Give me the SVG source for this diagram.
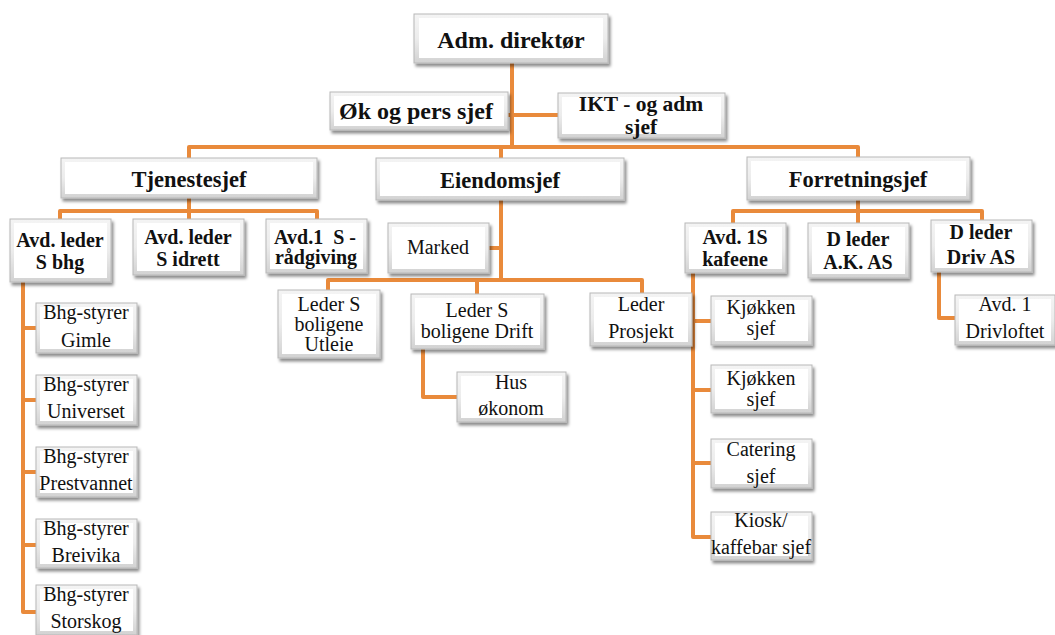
<svg xmlns="http://www.w3.org/2000/svg" width="1055" height="635" viewBox="0 0 1055 635">
<defs>
<filter id="sh" x="-10%" y="-10%" width="130%" height="140%">
<feDropShadow dx="2" dy="3" stdDeviation="1.8" flood-color="#000" flood-opacity="0.45"/>
</filter>
<linearGradient id="bev" x1="0" y1="0" x2="0" y2="1">
<stop offset="0" stop-color="#f4f4f4"/>
<stop offset="0.5" stop-color="#ececec"/>
<stop offset="1" stop-color="#d2d2d2"/>
</linearGradient>
</defs>
<style>
.b{fill:url(#bev);stroke:#b8b8b8;stroke-width:1;filter:url(#sh)}
.i{fill:#ffffff}
.c{fill:none;stroke:#E98A3B;stroke-width:4;stroke-linejoin:round}
text{font-family:"Liberation Serif","Times New Roman",serif;fill:#111;text-anchor:middle}
.bd{font-weight:bold}
.s{font-size:20px}
.n{font-size:20px}
.h{font-size:22.5px}
</style>
<rect width="1055" height="635" fill="#ffffff"/>
<g id="connectors">
<path class="c" d="M512 63V147"/>
<path class="c" d="M508 115H558"/>
<path class="c" d="M189 158V147H858V157"/>
<path class="c" d="M501 147V158"/>
<path class="c" d="M189 198V219"/>
<path class="c" d="M60 219V211H317V219"/>
<path class="c" d="M23 282V612H36"/>
<path class="c" d="M23 328H36M23 400H36M23 472H36M23 545H36"/>
<path class="c" d="M501 200V280"/>
<path class="c" d="M489 248H501"/>
<path class="c" d="M328 290V280H642V293"/>
<path class="c" d="M477 280V294"/>
<path class="c" d="M423 349V397H457"/>
<path class="c" d="M858 200V223"/>
<path class="c" d="M733 223V211H982V220"/>
<path class="c" d="M693 273V537H711"/>
<path class="c" d="M693 321H711M693 390H711M693 463H711"/>
<path class="c" d="M939 272V318H955"/>
</g>
<g id="adm"><rect class="b" x="414" y="14" width="194" height="49"/><rect class="i" x="419" y="18" width="184" height="40"/><text class="bd" x="511" y="48" font-size="24">Adm. direktør</text></g>
<g id="ok"><rect class="b" x="330" y="92" width="178" height="38"/><rect class="i" x="334" y="96" width="170" height="30"/><text class="bd" x="416" y="119" font-size="24">Øk og pers sjef</text></g>
<g id="ikt"><rect class="b" x="558" y="93" width="167" height="45"/><rect class="i" x="562" y="97" width="159" height="37"/><text class="bd" x="641" y="111" font-size="21.5">IKT - og adm</text><text class="bd" x="641" y="134" font-size="21.5">sjef</text></g>
<g id="tjenestesjef"><rect class="b" x="61" y="158" width="256" height="40"/><rect class="i" x="65" y="162" width="248" height="32"/><text class="bd h" x="189" y="187">Tjenestesjef</text></g>
<g id="eiendomsjef"><rect class="b" x="376" y="158" width="248" height="42"/><rect class="i" x="380" y="162" width="240" height="34"/><text class="bd h" x="500" y="188">Eiendomsjef</text></g>
<g id="forretningsjef"><rect class="b" x="747" y="157" width="223" height="43"/><rect class="i" x="751" y="161" width="215" height="35"/><text class="bd h" x="858" y="187">Forretningsjef</text></g>
<g id="bhg"><rect class="b" x="10" y="219" width="101" height="63"/><rect class="i" x="14" y="223" width="93" height="55"/><text class="bd s" x="60" y="247">Avd. leder</text><text class="bd s" x="60" y="269">S bhg</text></g>
<g id="idrett"><rect class="b" x="133" y="219" width="111" height="56"/><rect class="i" x="137" y="223" width="103" height="48"/><text class="bd s" x="188" y="244">Avd. leder</text><text class="bd s" x="188" y="266">S idrett</text></g>
<g id="radgiving"><rect class="b" x="266" y="219" width="101" height="54"/><rect class="i" x="270" y="223" width="93" height="46"/><text class="bd s" x="315" y="244" xml:space="preserve">Avd.1  S -</text><text class="bd s" x="316" y="264">rådgiving</text></g>
<g id="marked"><rect class="b" x="388" y="223" width="101" height="50"/><rect class="i" x="392" y="227" width="93" height="42"/><text class="n" x="438" y="254">Marked</text></g>
<g id="utleie"><rect class="b" x="278" y="290" width="102" height="68"/><rect class="i" x="282" y="294" width="94" height="60"/><text class="n" x="329" y="311">Leder S</text><text class="n" x="329" y="331">boligene</text><text class="n" x="329" y="351">Utleie</text></g>
<g id="drift"><rect class="b" x="411" y="294" width="133" height="55"/><rect class="i" x="415" y="298" width="125" height="47"/><text class="n" x="477" y="317">Leder S</text><text class="n" x="477" y="338">boligene Drift</text></g>
<g id="prosjekt"><rect class="b" x="590" y="293" width="102" height="53"/><rect class="i" x="594" y="297" width="94" height="45"/><text class="n" x="641" y="311">Leder</text><text class="n" x="641" y="338">Prosjekt</text></g>
<g id="hus"><rect class="b" x="457" y="372" width="109" height="50"/><rect class="i" x="461" y="376" width="101" height="42"/><text class="n" x="511" y="389">Hus</text><text class="n" x="511" y="415">økonom</text></g>
<g id="kafeene"><rect class="b" x="685" y="223" width="101" height="50"/><rect class="i" x="689" y="227" width="93" height="42"/><text class="bd s" x="735" y="244">Avd. 1S</text><text class="bd s" x="735" y="266">kafeene</text></g>
<g id="akas"><rect class="b" x="808" y="223" width="101" height="55"/><rect class="i" x="812" y="227" width="93" height="47"/><text class="bd s" x="858" y="246">D leder</text><text class="bd s" x="858" y="269">A.K. AS</text></g>
<g id="drivas"><rect class="b" x="931" y="220" width="101" height="52"/><rect class="i" x="935" y="224" width="93" height="44"/><text class="bd s" x="981" y="239">D leder</text><text class="bd s" x="981" y="264">Driv AS</text></g>
<g id="drivloftet"><rect class="b" x="955" y="295" width="100" height="50"/><rect class="i" x="959" y="299" width="92" height="42"/><text class="n" x="1005" y="311">Avd. 1</text><text class="n" x="1005" y="338">Drivloftet</text></g>
<g id="kjokken1"><rect class="b" x="711" y="296" width="101" height="49"/><rect class="i" x="715" y="300" width="93" height="41"/><text class="n" x="761" y="314">Kjøkken</text><text class="n" x="761" y="335">sjef</text></g>
<g id="kjokken2"><rect class="b" x="711" y="365" width="101" height="48"/><rect class="i" x="715" y="369" width="93" height="40"/><text class="n" x="761" y="385">Kjøkken</text><text class="n" x="761" y="406">sjef</text></g>
<g id="catering"><rect class="b" x="711" y="439" width="101" height="49"/><rect class="i" x="715" y="443" width="93" height="41"/><text class="n" x="761" y="456">Catering</text><text class="n" x="761" y="483">sjef</text></g>
<g id="kiosk"><rect class="b" x="711" y="512" width="101" height="48"/><rect class="i" x="715" y="516" width="93" height="40"/><text class="n" x="761" y="527">Kiosk/</text><text class="n" x="761" y="554">kaffebar sjef</text></g>
<g id="gimle"><rect class="b" x="36" y="303" width="101" height="50"/><rect class="i" x="40" y="307" width="93" height="42"/><text class="n" x="86" y="319">Bhg-styrer</text><text class="n" x="86" y="347">Gimle</text></g>
<g id="universet"><rect class="b" x="36" y="375" width="101" height="50"/><rect class="i" x="40" y="379" width="93" height="42"/><text class="n" x="86" y="391">Bhg-styrer</text><text class="n" x="86" y="418">Universet</text></g>
<g id="prestvannet"><rect class="b" x="36" y="447" width="101" height="50"/><rect class="i" x="40" y="451" width="93" height="42"/><text class="n" x="86" y="463">Bhg-styrer</text><text class="n" x="86" y="490">Prestvannet</text></g>
<g id="breivika"><rect class="b" x="36" y="519" width="101" height="49"/><rect class="i" x="40" y="523" width="93" height="41"/><text class="n" x="86" y="535">Bhg-styrer</text><text class="n" x="86" y="562">Breivika</text></g>
<g id="storskog"><rect class="b" x="36" y="585" width="101" height="50"/><rect class="i" x="40" y="589" width="93" height="42"/><text class="n" x="86" y="601">Bhg-styrer</text><text class="n" x="86" y="628">Storskog</text></g>
</svg>
